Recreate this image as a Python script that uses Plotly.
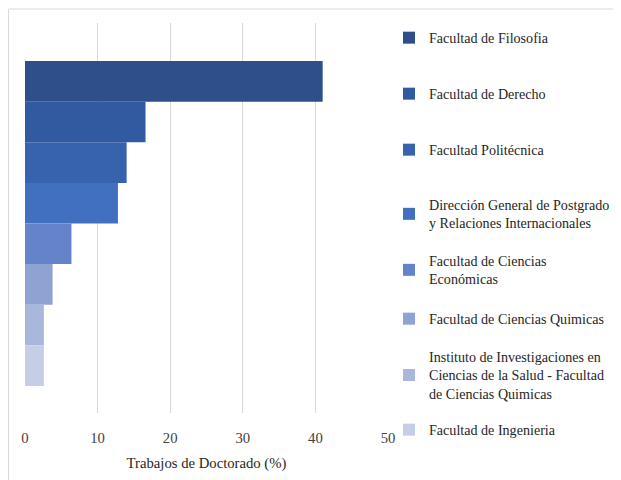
import plotly.graph_objects as go

categories = [
    "Facultad de Filosofia",
    "Facultad de Derecho",
    "Facultad Politécnica",
    "Dirección General de Postgrado<br>y Relaciones Internacionales",
    "Facultad de Ciencias<br>Económicas",
    "Facultad de Ciencias Quimicas",
    "Instituto de Investigaciones en<br>Ciencias de la Salud - Facultad<br>de Ciencias Quimicas",
    "Facultad de Ingenieria",
]
values = [41.0, 16.6, 14.0, 12.8, 6.4, 3.8, 2.6, 2.6]
colors = ["#2E4F89", "#325AA0", "#3762AE", "#4270C0", "#6483C9", "#8FA3D3", "#AAB7DD", "#C6CEE6"]
legend_y_px = [38, 94, 150, 214, 270, 319, 375, 430]
x_ticks = [0, 10, 20, 30, 40, 50]

OFF = 8  # page body margin
W, H = 613, 472
L, R, T, B = 25 - OFF, 233, 23 - OFF, 67
pw, ph = W - L - R, H - T - B
FONT = "Liberation Serif"
FS = 14.7
FS_LEG = 14.1

def px_x(px):
    return (px - OFF - L) / pw

def px_y(py):
    return (H - B - (py - OFF)) / ph

fig = go.Figure()
n = len(categories)
layout_legends = {}
for i, (cat, v, c) in enumerate(zip(categories, values, colors)):
    lname = "legend" if i == 0 else f"legend{i+1}"
    fig.add_trace(go.Bar(
        x=[v], y=[n - 1 - i], orientation="h", width=1.0,
        marker=dict(color=c, line=dict(width=0)),
        name=cat, legend=lname,
    ))
    layout_legends[lname] = dict(
        x=px_x(389), y=px_y(legend_y_px[i]), xanchor="left", yanchor="middle",
        bgcolor="rgba(0,0,0,0)", borderwidth=0,
        font=dict(family=FONT, size=FS_LEG, color="#262626"),
        itemwidth=30, tracegroupgap=0,
    )

fig.update_layout(
    width=W, height=H,
    margin=dict(l=L, r=R, t=T, b=B, autoexpand=False),
    font=dict(family=FONT, size=FS, color="#262626"),
    paper_bgcolor="white", plot_bgcolor="white",
    barmode="overlay",
    showlegend=True,
    xaxis=dict(
        range=[0, 50], tickvals=x_ticks, showgrid=True, gridcolor="#D9D9D9", gridwidth=1,
        zeroline=False, showline=False, ticks="", ticklabelstandoff=14,
        tickfont=dict(family=FONT, size=FS, color="#404040"),
        title=dict(text="Trabajos de Doctorado (%)", standoff=13,
                   font=dict(family=FONT, size=FS, color="#262626")),
    ),
    yaxis=dict(
        range=[-1.165, 8.436], showgrid=False, zeroline=False, showline=False,
        showticklabels=False, ticks="",
    ),
    shapes=[dict(
        type="rect", xref="paper", yref="paper",
        x0=px_x(8.5), x1=px_x(640), y0=px_y(500), y1=px_y(9),
        line=dict(color="#D9D9D9", width=1), fillcolor="rgba(0,0,0,0)", layer="below",
    )],
    **layout_legends,
)

fig.write_html("out.html")
